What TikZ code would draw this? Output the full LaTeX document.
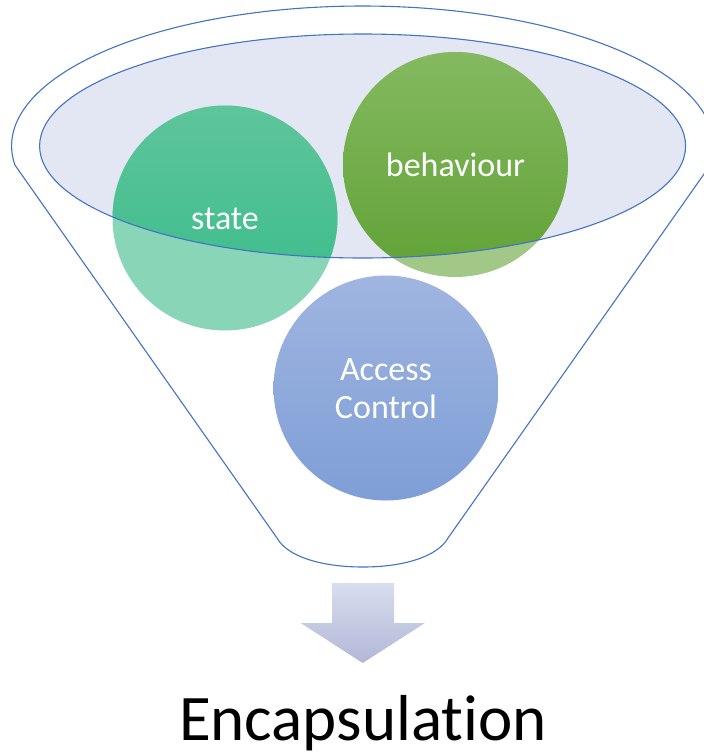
\documentclass[tikz,border=0pt]{standalone}
\usepackage{fontspec}
\setmainfont{Carlito}[Ligatures=NoCommon]
\definecolor{edge}{HTML}{4472C4}
\definecolor{ellfill}{HTML}{E3E7F3}
\definecolor{stTop}{HTML}{5EC59B}
\definecolor{stBot}{HTML}{36BB88}
\definecolor{stLight}{HTML}{89D5B8}
\definecolor{bhTop}{HTML}{84B960}
\definecolor{bhBot}{HTML}{60A235}
\definecolor{bhLight}{HTML}{A2C887}
\definecolor{acTop}{HTML}{A0B5E0}
\definecolor{acBot}{HTML}{7E9ED6}
\definecolor{arTop}{HTML}{D8DDEF}
\definecolor{arBot}{HTML}{B2B7D7}
\tikzset{
  outline/.style={draw=edge, line width=1.1pt},
  lbl/.style={text=white, font=\fontsize{34}{38}\selectfont, inner sep=0pt, align=center},
}
\begin{document}
\begin{tikzpicture}[x=1pt,y=-1pt]
\useasboundingbox (0,0) rectangle (704,756);
% funnel outline
\draw[outline, line join=round] (14.9,165) arc[start angle=187.8, end angle=-7.8, x radius=351pt, y radius=140pt]
  coordinate (rtop)
  -- (448,538) .. controls (438,556) and (405,567) .. (363,567)
  .. controls (320,567) and (287,556) .. (277,538) -- cycle;
% inner ellipse fill
\fill[ellfill] (362.6,146) ellipse [x radius=323pt, y radius=112pt];
% circles: light parts
\fill[stLight] (225,218) circle [radius=112.5pt];
\fill[bhLight] (455.5,164.5) circle [radius=112.5pt];
\shade[top color=acTop, bottom color=acBot] (386,388) circle [radius=112.5pt];
% circles: parts inside the ellipse
\begin{scope}
  \clip (362.6,146) ellipse [x radius=323pt, y radius=112pt];
  \shade[top color=stTop, bottom color=stBot] (225,218) circle [radius=112.5pt];
  \shade[top color=bhTop, bottom color=bhBot] (455.5,164.5) circle [radius=112.5pt];
\end{scope}
% ellipse outline
\draw[outline] (362.6,146) ellipse [x radius=323pt, y radius=112pt];
% labels
\node[lbl, anchor=base] (state) at (225,229) {state};
\node[lbl, anchor=base] (behaviour) at (455.5,176) {behaviour};
\node[lbl] (access) at (386,389) {Access\\Control};
% arrow
\shade[top color=arTop, bottom color=arBot] (332,583) -- (394,583) -- (394,623) -- (425,623)
  -- (362.7,663) -- (300.7,623) -- (332,623) -- cycle;
\node[anchor=base, inner sep=0pt, font=\fontsize{65}{70}\selectfont] (enc) at (363,740) {Encapsulation};
\end{tikzpicture}
\end{document}
